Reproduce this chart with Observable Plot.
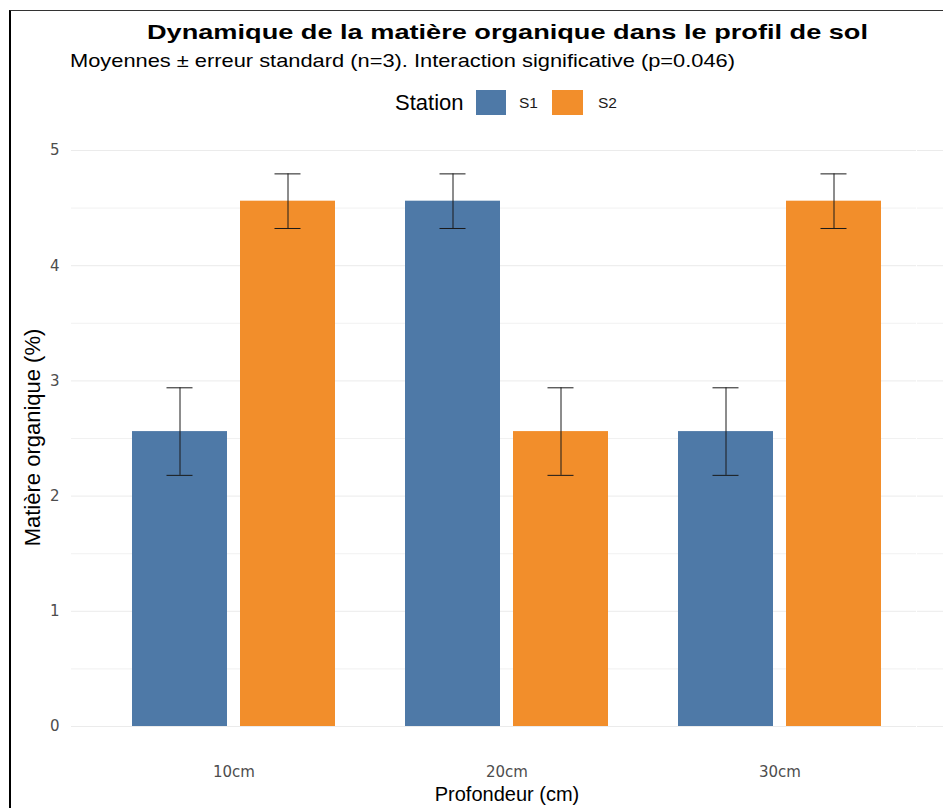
<!DOCTYPE html>
<html>
<head>
<meta charset="utf-8">
<script src="https://cdn.jsdelivr.net/npm/d3@7"></script>
<script src="https://cdn.jsdelivr.net/npm/@observablehq/plot@0.6"></script>
<style>
  html, body { margin: 0; padding: 0; background: #fff; }
  #page { position: relative; width: 943px; height: 808px; overflow: hidden; background: #fff; font-family: "Liberation Sans", Arial, sans-serif; }
  #frame { position: absolute; left: 9px; top: 10px; right: -2px; bottom: -2px; border-top: 1px solid #333; border-left: 2.5px solid #000; }
  .fit { position: absolute; white-space: nowrap; line-height: 1; display: inline-block; transform-origin: left center; }
  #title { left: 147px; top: 21px; font-size: 21px; font-weight: bold; color: #000; }
  #subtitle { left: 70px; top: 52px; font-size: 18.6px; color: #000; }
  #legend { position: absolute; left: 0; top: 90px; width: 943px; height: 25px; }
  #legend > * { position: absolute; top: 0; height: 25px; line-height: 25px; white-space: nowrap; }
  #legend .ttl { font-size: 22px; color: #000; }
  #legend .lab { font-size: 15.5px; color: #1a1a1a; }
  #chart { position: absolute; left: 0; top: 120px; }
</style>
</head>
<body>
<div id="page">
  <div id="frame"></div>
  <div id="title" class="fit">Dynamique de la matière organique dans le profil de sol</div>
  <div id="subtitle" class="fit">Moyennes ± erreur standard (n=3). Interaction significative (p=0.046)</div>
  <div id="legend"></div>
  <div id="chart"></div>
</div>
<script>
// ---- data ----
const depths = ["10cm", "20cm", "30cm"];
const stations = ["S1", "S2"];
const meanS1 = [2.56, 4.56, 2.56];
const meanS2 = [4.56, 2.56, 4.56];
const seS1 = [0.38, 0.237, 0.38];
const seS2 = [0.237, 0.38, 0.237];
const colors = ["#4E79A7", "#F28E2B"];
const yTicks = [0, 1, 2, 3, 4, 5];
const yMinorTicks = [0.5, 1.5, 2.5, 3.5, 4.5];
const xLabel = "Profondeur (cm)";
const yLabel = "Matière organique (%)";
const legendTitle = "Station";

const rows = [];
depths.forEach((d, i) => {
  rows.push({depth: d, station: "S1", mean: meanS1[i], se: seS1[i]});
  rows.push({depth: d, station: "S2", mean: meanS2[i], se: seS2[i]});
});

// ---- legend (HTML) ----
const leg = document.getElementById("legend");
function addLeg(cls, left, text, bg, w) {
  const el = document.createElement("span");
  el.className = cls;
  el.style.left = left + "px";
  if (text) el.textContent = text;
  if (bg) { el.style.background = bg; el.style.width = w + "px"; }
  leg.appendChild(el);
}
addLeg("ttl", 395, legendTitle);
addLeg("sw", 476, null, colors[0], 30);
addLeg("lab", 519, stations[0]);
addLeg("sw", 552, null, colors[1], 31);
addLeg("lab", 598, stations[1]);

// ---- plot ----
const gridColor = "#ebebeb";
const chart = Plot.plot({
  width: 943,
  height: 688,
  marginLeft: 70,
  marginRight: 0,
  marginTop: 0,
  marginBottom: 54,
  style: {fontFamily: "DejaVu Sans, sans-serif", fontSize: "15px", color: "#4d4d4d", background: "transparent", overflow: "visible"},
  fx: {domain: depths, paddingInner: 0, paddingOuter: 0.095, label: null},
  x: {domain: stations, paddingInner: 0.12, paddingOuter: 0.313, axis: null},
  y: {domain: [0, 5], range: [606, 30], label: null},
  color: {domain: stations, range: colors},
  marks: [
    // grid inside each facet
    Plot.gridY(yMinorTicks, {stroke: gridColor, strokeOpacity: 1, strokeWidth: 0.7}),
    Plot.gridY(yTicks, {stroke: gridColor, strokeOpacity: 1, strokeWidth: 1}),
    // grid continued into the outer gutters (left and right of the outer facets)
    Plot.axisY(yMinorTicks, {anchor: "left", tickSize: 26, stroke: gridColor, strokeWidth: 0.7, tickFormat: () => "", label: null}),
    Plot.axisY(yMinorTicks, {anchor: "right", tickSize: 26, stroke: gridColor, strokeWidth: 0.7, tickFormat: () => "", label: null}),
    Plot.axisY(yTicks, {anchor: "right", tickSize: 26, stroke: gridColor, strokeWidth: 1, tickFormat: () => "", label: null}),
    Plot.axisY(yTicks, {anchor: "left", tickSize: 26, stroke: gridColor, strokeWidth: 1, tickPadding: 12, tickFormat: d => String(d), label: yLabel, labelAnchor: "center", labelOffset: 73, labelArrow: false}),
    // bars and error bars
    Plot.barY(rows, {fx: "depth", x: "station", y: "mean", fill: "station"}),
    Plot.ruleX(rows, {fx: "depth", x: "station", y1: d => d.mean - d.se, y2: d => d.mean + d.se, stroke: "#1a1a1a", strokeWidth: 1}),
    Plot.tickY(rows, {fx: "depth", x: "station", y: d => d.mean + d.se, stroke: "#1a1a1a", strokeWidth: 1, insetLeft: 34.5, insetRight: 34.5}),
    Plot.tickY(rows, {fx: "depth", x: "station", y: d => d.mean - d.se, stroke: "#1a1a1a", strokeWidth: 1, insetLeft: 34.5, insetRight: 34.5}),
    Plot.axisFx({anchor: "bottom", tickSize: 0, tickPadding: 12, label: xLabel, labelAnchor: "center", labelOffset: 46, labelArrow: false})
  ]
});
document.getElementById("chart").appendChild(chart);

// style axis titles
function styleLabel(sel, size) {
  chart.querySelectorAll(sel).forEach(g => {
    const nodes = g.tagName.toLowerCase() === "text" ? [g] : [g, ...g.querySelectorAll("text")];
    nodes.forEach(t => {
      t.setAttribute("font-family", "Liberation Sans, Arial, sans-serif");
      t.setAttribute("font-size", size);
      t.setAttribute("fill", "#000");
      t.style.fontFamily = "Liberation Sans, Arial, sans-serif";
      t.style.fontSize = size;
      t.style.fill = "#000";
    });
  });
}
styleLabel('[aria-label="fx-axis label"]', "20px");
styleLabel('[aria-label="y-axis label"]', "22px");

// fit title widths to reference
function fit(id, target) {
  const el = document.getElementById(id);
  const w = el.getBoundingClientRect().width;
  el.style.transform = `scaleX(${target / w})`;
}
fit("title", 721);
fit("subtitle", 665);
</script>
</body>
</html>
